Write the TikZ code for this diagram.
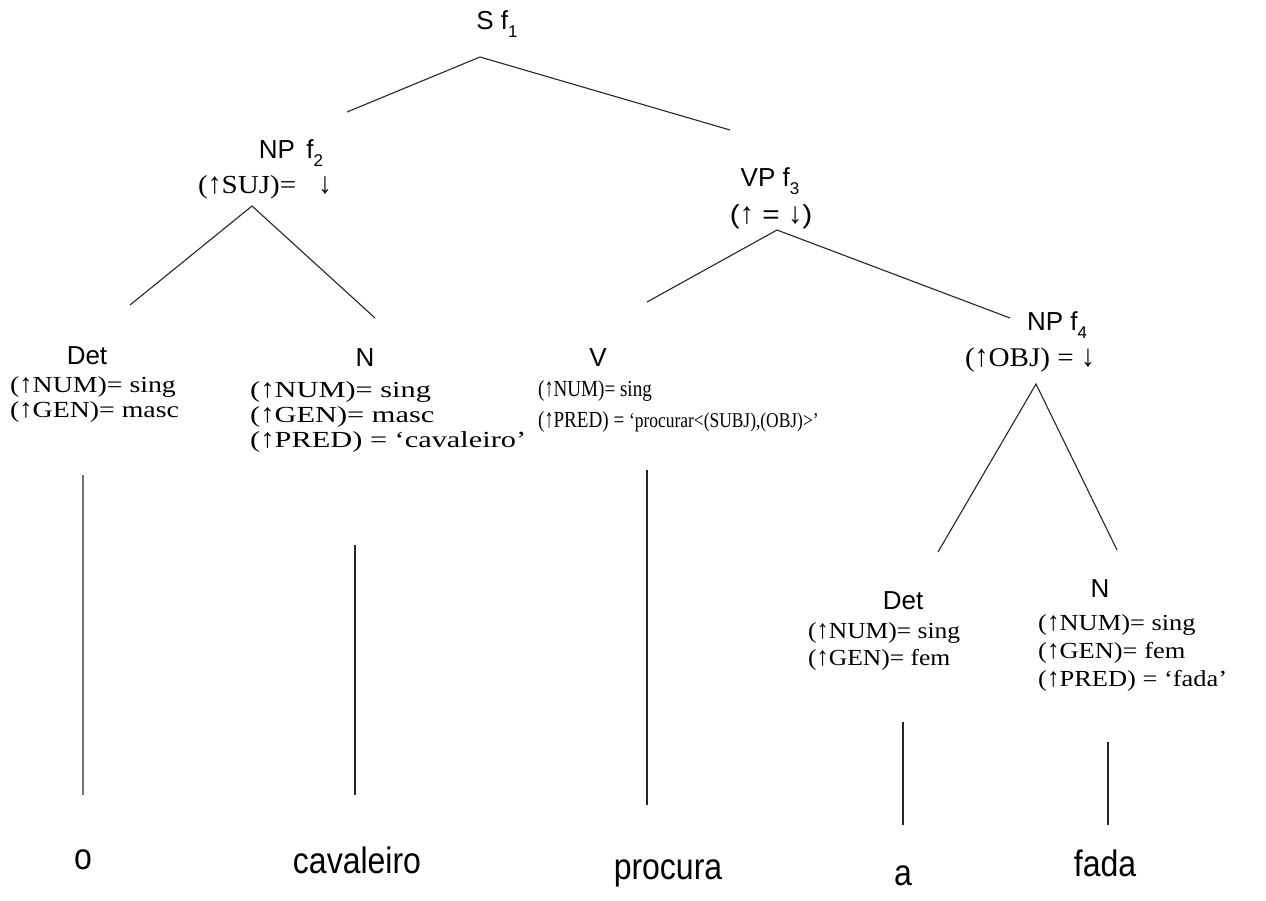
\documentclass[tikz,border=0pt]{standalone}
\usepackage{fontspec}
\setmainfont{Liberation Serif}
\setsansfont{Liberation Sans}
\newcommand\fsub[1]{\raisebox{-0.32em}{\fontsize{17}{17}\selectfont #1}}
% slim, tall arrows
\newcommand\upar{\scalebox{0.95}[1.15]{↑}}
\newcommand\dnar{\scalebox{0.95}[1.15]{↓}}
% equation block: horizontal stretch, font size, line distance, lines
\newcommand\eqblock[4]{\scalebox{#1}[1]{\fontsize{#2}{#3}\selectfont\begin{tabular}{@{}l@{}}#4\end{tabular}}}
\begin{document}
\begin{tikzpicture}[x=1pt,y=-1pt,
  cat/.style={font=\sffamily\fontsize{26}{28}\selectfont, inner sep=0pt, anchor=base},
  feat/.style={font=\rmfamily, inner sep=0pt, anchor=north west},
  leaf/.style={font=\sffamily\fontsize{32}{34}\selectfont, inner sep=0pt},
  edge/.style={line width=1.1pt, draw=black!85}]
\useasboundingbox[fill=white] (0,0) rectangle (1266,900);

% phrase labels
\node[cat] (s) at (497,29) {S f\fsub{1}};
\node[cat] (np2) at (291,158) {NP\, f\fsub{2}};
\node[feat, anchor=center] (np2f) at (265,187) {\scalebox{1.12}[1]{\fontsize{26}{28}\selectfont(\upar SUJ)=\ \ \ \dnar}};
\node[cat] (vp3) at (770,186) {VP f\fsub{3}};
\node[cat, anchor=center] (vp3f) at (771,217) {\scalebox{1.15}[1]{(\upar\ = \dnar)}};
\node[cat] (np4) at (1057,330) {NP f\fsub{4}};
\node[feat, anchor=center] (np4f) at (1030,360) {\scalebox{1.08}[1]{\fontsize{27}{28}\selectfont(\upar OBJ) = \dnar}};

% lexical categories and their equations
\node[cat] (det1) at (87,364) {Det};
\node[feat] (det1f) at (10,374) {\eqblock{1.21}{23}{25.5}{(\upar NUM)= sing\\(\upar GEN)= masc}};
\node[cat] (n1) at (365,366) {N};
\node[feat] (n1f) at (250,380) {\eqblock{1.32}{23}{25}{(\upar NUM)= sing\\(\upar GEN)= masc\\(\upar PRED) = ‘cavaleiro’}};
\node[cat] (v) at (598,366) {V};
\node[feat] (vf) at (538,375) {\eqblock{0.83}{23}{31}{(\upar NUM)= sing\\(\upar PRED) = {\fontsize{21}{31}\selectfont‘procurar<(SUBJ),(OBJ)>’}}};
\node[cat] (det2) at (903,609) {Det};
\node[feat] (det2f) at (808,619) {\eqblock{1.11}{23}{27}{(\upar NUM)= sing\\(\upar GEN)= fem}};
\node[cat] (n2) at (1100,597) {N};
\node[feat] (n2f) at (1038,611) {\eqblock{1.15}{23}{28}{(\upar NUM)= sing\\(\upar GEN)= fem\\(\upar PRED) = ‘fada’}};

% words
\node[leaf] (w1) at (83,860)   {\scalebox{1}[1.15]{o}};
\node[leaf] (w2) at (357,860)  {\scalebox{1}[1.15]{cavaleiro}};
\node[leaf] (w3) at (668,873)  {\scalebox{1}[1.15]{procura}};
\node[leaf] (w4) at (903,876)  {\scalebox{1}[1.15]{a}};
\node[leaf] (w5) at (1105,863) {\scalebox{1}[1.15]{fada}};

% branch end points
\coordinate (s-top) at (480,57);
\coordinate (s-l) at (347,112);
\coordinate (s-r) at (730,130);
\coordinate (np2-top) at (252,206);
\coordinate (np2-l) at (130,305);
\coordinate (np2-r) at (375,318);
\coordinate (vp3-top) at (777,230);
\coordinate (vp3-l) at (647,302);
\coordinate (vp3-r) at (1010,318);
\coordinate (np4-top) at (1036,384);
\coordinate (np4-l) at (938,552);
\coordinate (np4-r) at (1117,550);
\coordinate (det1-b) at (83,475);
\coordinate (w1-t) at (83,795);
\coordinate (n1-b) at (355,545);
\coordinate (w2-t) at (355,795);
\coordinate (v-b) at (647,470);
\coordinate (w3-t) at (647,805);
\coordinate (det2-b) at (903,722);
\coordinate (w4-t) at (903,825);
\coordinate (n2-b) at (1108,742);
\coordinate (w5-t) at (1108,825);

\draw[edge] (s-l) -- (s-top) -- (s-r);
\draw[edge] (np2-l) -- (np2-top) -- (np2-r);
\draw[edge] (vp3-l) -- (vp3-top) -- (vp3-r);
\draw[edge] (np4-l) -- (np4-top) -- (np4-r);
\draw[edge, draw=black!55] (det1-b) -- (w1-t);
\draw[edge] (n1-b) -- (w2-t);
\draw[edge] (v-b) -- (w3-t);
\draw[edge] (det2-b) -- (w4-t);
\draw[edge] (n2-b) -- (w5-t);
\end{tikzpicture}
\end{document}
